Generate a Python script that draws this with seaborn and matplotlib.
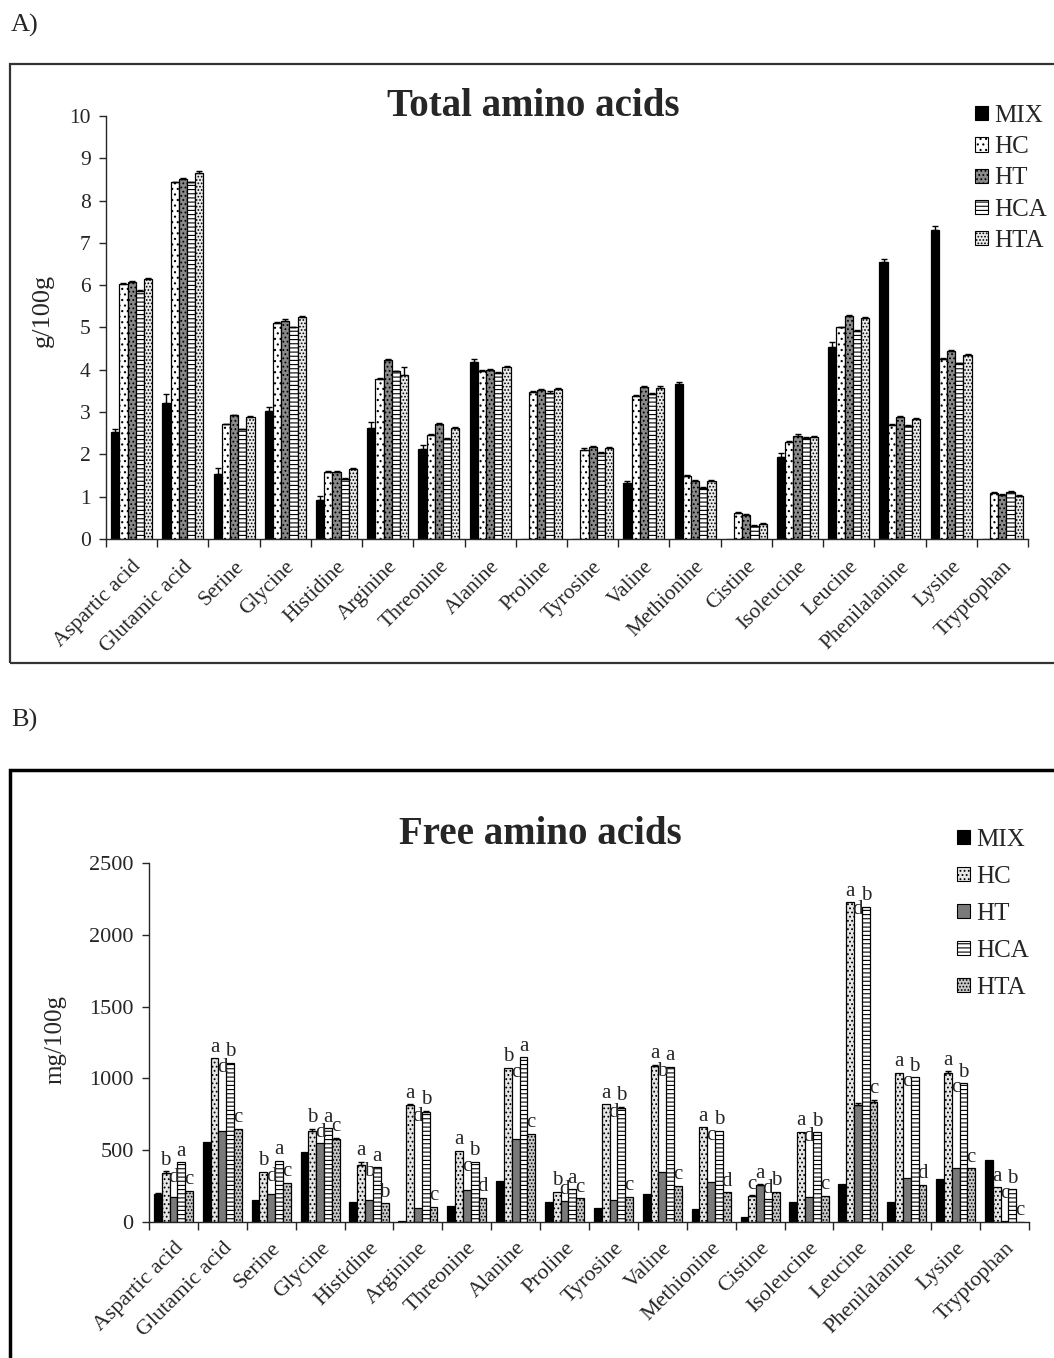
import numpy as np
import pandas as pd
import matplotlib
matplotlib.use("Agg")
import matplotlib.pyplot as plt
from matplotlib.patches import Rectangle, Patch
import seaborn as sns

# ---------------- data ----------------
categories = ["Aspartic acid", "Glutamic acid", "Serine", "Glycine", "Histidine",
              "Arginine", "Threonine", "Alanine", "Proline", "Tyrosine", "Valine",
              "Methionine", "Cistine", "Isoleucine", "Leucine", "Phenilalanine",
              "Lysine", "Tryptophan"]
groups = ["MIX", "HC", "HT", "HCA", "HTA"]

# Panel A: total amino acids (g/100g)
total_mix = [2.54, 3.21, 1.54, 3.03, 0.92, 2.63, 2.12, 4.19, 0, 0, 1.33, 3.66, 0, 1.93, 4.55, 6.56, 7.30, 0]
total_hc = [6.03, 8.43, 2.71, 5.10, 1.58, 3.78, 2.47, 3.97, 3.47, 2.10, 3.38, 1.49, 0.61, 2.29, 5.00, 2.70, 4.25, 1.08]
total_ht = [6.08, 8.51, 2.92, 5.16, 1.59, 4.23, 2.71, 4.00, 3.52, 2.17, 3.59, 1.37, 0.57, 2.44, 5.27, 2.89, 4.45, 1.04]
total_hca = [5.87, 8.43, 2.59, 5.00, 1.43, 3.96, 2.36, 3.92, 3.44, 2.03, 3.42, 1.21, 0.31, 2.38, 4.92, 2.67, 4.15, 1.10]
total_hta = [6.15, 8.66, 2.88, 5.24, 1.65, 3.88, 2.63, 4.06, 3.55, 2.16, 3.58, 1.37, 0.35, 2.42, 5.23, 2.83, 4.35, 1.02]

total_err_mix = [0.05, 0.21, 0.13, 0.10, 0.10, 0.13, 0.10, 0.06, 0, 0, 0.03, 0.04, 0, 0.10, 0.10, 0.06, 0.10, 0]
total_err_hc = [0.02, 0.02, 0.02, 0.02, 0.02, 0.02, 0.02, 0.02, 0.02, 0.04, 0.03, 0.02, 0.02, 0.02, 0.02, 0.02, 0.02, 0.02]
total_err_ht = [0.03, 0.03, 0.02, 0.03, 0.02, 0.03, 0.03, 0.03, 0.03, 0.03, 0.02, 0.02, 0.03, 0.04, 0.03, 0.02, 0.02, 0.02]
total_err_hca = [0.02, 0.02, 0.02, 0.02, 0.02, 0.02, 0.02, 0.02, 0.07, 0.02, 0.02, 0.02, 0.02, 0.02, 0.02, 0.02, 0.02, 0.04]
total_err_hta = [0.03, 0.03, 0.02, 0.03, 0.02, 0.18, 0.02, 0.03, 0.03, 0.02, 0.03, 0.02, 0.02, 0.02, 0.02, 0.02, 0.02, 0.02]

# Panel B: free amino acids (mg/100g)
free_mix = [195, 559, 151, 485, 141, 8, 111, 288, 141, 95, 195, 90, 37, 137, 262, 141, 297, 431]
free_hc = [343, 1139, 350, 633, 397, 814, 496, 1074, 211, 819, 1088, 659, 181, 629, 2225, 1039, 1039, 241]
free_ht = [172, 636, 195, 548, 151, 95, 223, 578, 146, 153, 350, 276, 258, 176, 814, 308, 374, 5]
free_hca = [415, 1109, 427, 652, 381, 768, 420, 1146, 228, 791, 1081, 633, 158, 624, 2195, 1007, 965, 228]
free_hta = [216, 647, 274, 580, 130, 104, 169, 612, 165, 176, 253, 207, 211, 181, 837, 258, 374, 3]

free_err_mix = [8, 0, 0, 0, 0, 0, 0, 0, 0, 0, 0, 0, 0, 0, 0, 0, 0, 0]
free_err_hc = [10, 0, 0, 15, 20, 5, 0, 0, 0, 0, 5, 0, 5, 0, 0, 0, 10, 0]
free_err_ht = [0, 0, 0, 0, 0, 0, 0, 0, 0, 0, 0, 0, 5, 0, 15, 0, 0, 0]
free_err_hca = [0, 0, 0, 0, 0, 5, 0, 0, 0, 12, 0, 0, 0, 0, 0, 0, 0, 0]
free_err_hta = [0, 0, 0, 8, 0, 0, 0, 0, 0, 0, 0, 0, 0, 0, 15, 0, 0, 0]

letters_hc = ["b", "a", "b", "b", "a", "a", "a", "b", "b", "a", "a", "a", "c", "a", "a", "a", "a", "a"]
letters_ht = ["d", "d", "d", "d", "b", "d", "c", "c", "d", "d", "b", "c", "a", "d", "d", "c", "c", "c"]
letters_hca = ["a", "b", "a", "a", "a", "b", "b", "a", "a", "b", "a", "b", "d", "b", "b", "b", "b", "b"]
letters_hta = ["c", "c", "c", "c", "b", "c", "d", "c", "c", "c", "c", "d", "b", "c", "c", "d", "c", "c"]

# ---------------- style ----------------
sns.set_style("ticks")
plt.rcParams["font.family"] = ["Liberation Serif", "DejaVu Serif"]
plt.rcParams["hatch.linewidth"] = 0.8

W, H = 1054, 1358
fig = plt.figure(figsize=(W / 100, H / 100), dpi=100)


def fx(px):
    return px / W


def fy(py):
    return 1 - py / H


def long_df(series):
    rows = []
    for g, vals in zip(groups, series):
        for c, v in zip(categories, vals):
            rows.append({"cat": c, "grp": g, "val": v})
    return pd.DataFrame(rows)


def draw_panel(ax, series, errs, styles, ylim, yticks, tick_fs, xpad):
    df = long_df(series)
    pal = {g: styles[g]["fc"] for g in groups}
    sns.barplot(data=df, x="cat", y="val", hue="grp", order=categories,
                hue_order=groups, palette=pal, errorbar=None, width=0.8,
                legend=False, ax=ax, saturation=1)
    handles = []
    for g, cont, err in zip(groups, ax.containers, errs):
        st = styles[g]
        for p in cont:
            p.set_edgecolor("black")
            p.set_linewidth(0.9)
            if st["hatch"]:
                p.set_hatch(st["hatch"])
        xs = np.array([p.get_x() + p.get_width() / 2 for p in cont])
        ys = np.array([p.get_height() for p in cont])
        err = np.asarray(err, dtype=float)
        m = err > 0
        if m.any():
            ax.errorbar(xs[m], ys[m], yerr=[np.zeros(m.sum()), err[m]], fmt="none",
                        ecolor="black", elinewidth=1, capsize=2.5, capthick=1, zorder=5)
        handles.append(Patch(facecolor=st["fc"], edgecolor="black", hatch=st["hatch"],
                             linewidth=0.8, label=g))
    ax.set_xlim(-0.5, len(categories) - 0.5)
    ax.set_ylim(*ylim)
    ax.set_yticks(yticks)
    ax.set_xticks(range(len(categories)))
    ax.set_xticklabels(categories, rotation=45, ha="right", rotation_mode="anchor",
                       fontsize=tick_fs)
    ax.set_xticks(np.arange(-0.5, len(categories), 1.0), minor=True)
    ax.tick_params(axis="x", which="major", length=0, pad=xpad)
    ax.tick_params(axis="x", which="minor", length=6, width=1, direction="out")
    ax.tick_params(axis="y", length=5, width=1, direction="out", labelsize=tick_fs, pad=6)
    ax.set_xlabel("")
    ax.set_ylabel("")
    for s in ["top", "right"]:
        ax.spines[s].set_visible(False)
    for s in ["left", "bottom"]:
        ax.spines[s].set_linewidth(1)
    ax.set_facecolor("none")
    return handles


# ---------------- panel A ----------------
axA = fig.add_axes([fx(106), fy(539), fx(1028) - fx(106), fy(116) - fy(539)])
stylesA = {
    "MIX": {"fc": "black", "hatch": None},
    "HC": {"fc": "white", "hatch": "..."},
    "HT": {"fc": "#8a8a8a", "hatch": "...."},
    "HCA": {"fc": "white", "hatch": "----"},
    "HTA": {"fc": "#ececec", "hatch": "....."},
}
handlesA = draw_panel(axA, [total_mix, total_hc, total_ht, total_hca, total_hta],
                      [total_err_mix, total_err_hc, total_err_ht, total_err_hca, total_err_hta],
                      stylesA, (0, 10), range(0, 11), 15.5, 13)

fig.text(fx(533), fy(106), "Total amino acids", ha="center", va="center",
         fontsize=28, fontweight="bold")
fig.text(fx(43), fy(310), "g/100g", ha="center", va="center", rotation=90, fontsize=19)
fig.text(fx(11), fy(25), "A)", ha="left", va="center", fontsize=19)
fig.legend(handles=handlesA, loc="upper left", bbox_to_anchor=(fx(975), fy(105)),
           frameon=False, fontsize=18, handlelength=0.5, handleheight=0.5,
           handletextpad=0.25, labelspacing=0.37, borderaxespad=0, borderpad=0)

# ---------------- panel B ----------------
axB = fig.add_axes([fx(149), fy(1222), fx(1029) - fx(149), fy(863) - fy(1222)])
stylesB = {
    "MIX": {"fc": "black", "hatch": None},
    "HC": {"fc": "#e6e6e6", "hatch": "...."},
    "HT": {"fc": "#7a7a7a", "hatch": None},
    "HCA": {"fc": "white", "hatch": "----"},
    "HTA": {"fc": "#c8c8c8", "hatch": "....."},
}
free_series = [free_mix, free_hc, free_ht, free_hca, free_hta]
handlesB = draw_panel(axB, free_series,
                      [free_err_mix, free_err_hc, free_err_ht, free_err_hca, free_err_hta],
                      stylesB, (0, 2500), range(0, 2501, 500), 16, 12)

# significance letters
letter_sets = [letters_hc, letters_ht, letters_hca, letters_hta]
errs_B = [free_err_hc, free_err_ht, free_err_hca, free_err_hta]
for k, (cont, lets, err) in enumerate(zip(axB.containers[1:], letter_sets, errs_B)):
    for j, (p, lt) in enumerate(zip(cont, lets)):
        h = p.get_height()
        if k == 1:  # HT letters float between their neighbours in the original
            h = max(h, min(free_hc[j], free_hca[j]) - 110)
        axB.text(p.get_x() + p.get_width() / 2, h + err[j] + 12, lt,
                 ha="center", va="bottom", fontsize=15)

fig.text(fx(540), fy(835), "Free amino acids", ha="center", va="center",
         fontsize=28, fontweight="bold")
fig.text(fx(55), fy(1040), "mg/100g", ha="center", va="center", rotation=90, fontsize=18)
fig.text(fx(11), fy(720), "B)", ha="left", va="center", fontsize=19)
fig.legend(handles=handlesB, loc="upper left", bbox_to_anchor=(fx(957), fy(829)),
           frameon=False, fontsize=18, handlelength=0.5, handleheight=0.5,
           handletextpad=0.25, labelspacing=0.6, borderaxespad=0, borderpad=0)

# panel frames
fig.patches.append(Rectangle((fx(10), fy(663)), 1.2, fy(64) - fy(663), transform=fig.transFigure,
                             fill=False, lw=1.6, ec="#333333"))
fig.patches.append(Rectangle((fx(10), -0.2), 1.2, fy(770) + 0.2, transform=fig.transFigure,
                             fill=False, lw=2.5, ec="black"))

fig.savefig("out.png", dpi=100)
